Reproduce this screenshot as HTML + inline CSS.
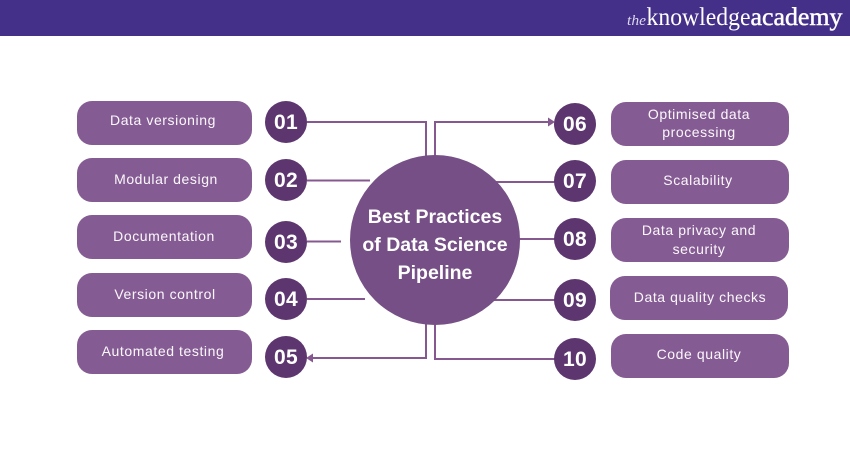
<!DOCTYPE html>
<html><head><meta charset="utf-8"><style>
html,body{margin:0;padding:0;background:#fff}
#s{position:relative;width:850px;height:450px;overflow:hidden;background:#fff;font-family:"Liberation Sans",sans-serif}
#h{position:absolute;left:0;top:0;width:850px;height:36px;background:#443089}
svg{position:absolute;left:0;top:0}
.p{position:absolute;background:#855b93;border-radius:15px}
.t{position:absolute;color:#fbf8fc;font-size:14px;line-height:19px;text-align:center;white-space:nowrap;letter-spacing:.58px}
.n{position:absolute;width:42px;height:42px;border-radius:50%;background:#5d366f;color:#fff;font-weight:bold;font-size:21px;letter-spacing:.3px;line-height:43px;text-align:center}
</style></head><body><div id="s">
<div id="h"></div>
<svg width="850" height="450" viewBox="0 0 850 450">
<text x="627" y="25" font-family="Liberation Serif" font-style="italic" font-size="15" fill="#ddd8ee" textLength="19" lengthAdjust="spacingAndGlyphs">the</text>
<text x="646.500" y="25" font-family="Liberation Serif" font-size="25" fill="#fff" textLength="104" lengthAdjust="spacingAndGlyphs">knowledge</text>
<text x="750.500" y="25" font-family="Liberation Serif" font-size="25" fill="#fff" stroke="#fff" stroke-width=".45" textLength="92" lengthAdjust="spacingAndGlyphs">academy</text>
<g fill="none" stroke="#85598f" stroke-width="2">
<path d="M307 122H426V156"/><path d="M307 180.500H370"/><path d="M307 241.500H341"/><path d="M307 299H365"/>
<path d="M312 358H426V324"/><path d="M435 156V122H550"/><path d="M495 182H555"/><path d="M518 239H555"/>
<path d="M492 300H555"/><path d="M435 324V359H555"/>
</g>
<path d="M555 122L548 117.500V126.500Z" fill="#85598f"/><path d="M306 358L313 353.500V362.500Z" fill="#85598f"/>
<circle cx="435" cy="240" r="85" fill="#754f85"/>
<text x="435" y="223" text-anchor="middle" font-weight="bold" font-size="19.500" fill="#fff" font-family="Liberation Sans">Best Practices</text>
<text x="435" y="251" text-anchor="middle" font-weight="bold" font-size="19.500" fill="#fff" font-family="Liberation Sans">of Data Science</text>
<text x="435" y="279" text-anchor="middle" font-weight="bold" font-size="19.500" fill="#fff" font-family="Liberation Sans">Pipeline</text>
</svg>
<div class="p" style="left:77px;top:101px;width:175px;height:44px"></div>
<div class="p" style="left:77px;top:158px;width:175px;height:44px"></div>
<div class="p" style="left:77px;top:215px;width:175px;height:44px"></div>
<div class="p" style="left:77px;top:273px;width:175px;height:44px"></div>
<div class="p" style="left:77px;top:330px;width:175px;height:44px"></div>
<div class="p" style="left:611px;top:102px;width:178px;height:44px"></div>
<div class="p" style="left:611px;top:160px;width:178px;height:44px"></div>
<div class="p" style="left:611px;top:218px;width:178px;height:44px"></div>
<div class="p" style="left:610px;top:276px;width:178px;height:44px"></div>
<div class="p" style="left:611px;top:334px;width:178px;height:44px"></div>
<div class="t" style="left:63px;width:200px;top:111px">Data versioning</div>
<div class="t" style="left:66px;width:200px;top:170px">Modular design</div>
<div class="t" style="left:64px;width:200px;top:227px">Documentation</div>
<div class="t" style="left:65px;width:200px;top:285px">Version control</div>
<div class="t" style="left:63px;width:200px;top:342px">Automated testing</div>
<div class="t" style="left:599px;width:200px;top:105px">Optimised data</div>
<div class="t" style="left:599px;width:200px;top:123px">processing</div>
<div class="t" style="left:598px;width:200px;top:171px">Scalability</div>
<div class="t" style="left:599px;width:200px;top:221px">Data privacy and</div>
<div class="t" style="left:599px;width:200px;top:240px">security</div>
<div class="t" style="left:600px;width:200px;top:288px">Data quality checks</div>
<div class="t" style="left:599px;width:200px;top:345px">Code quality</div>
<div class="n" style="left:265px;top:101px">01</div>
<div class="n" style="left:265px;top:159px">02</div>
<div class="n" style="left:265px;top:221px">03</div>
<div class="n" style="left:265px;top:278px">04</div>
<div class="n" style="left:265px;top:336px">05</div>
<div class="n" style="left:554px;top:103px">06</div>
<div class="n" style="left:554px;top:160px">07</div>
<div class="n" style="left:554px;top:218px">08</div>
<div class="n" style="left:554px;top:279px">09</div>
<div class="n" style="left:554px;top:338px">10</div>
</div></body></html>
